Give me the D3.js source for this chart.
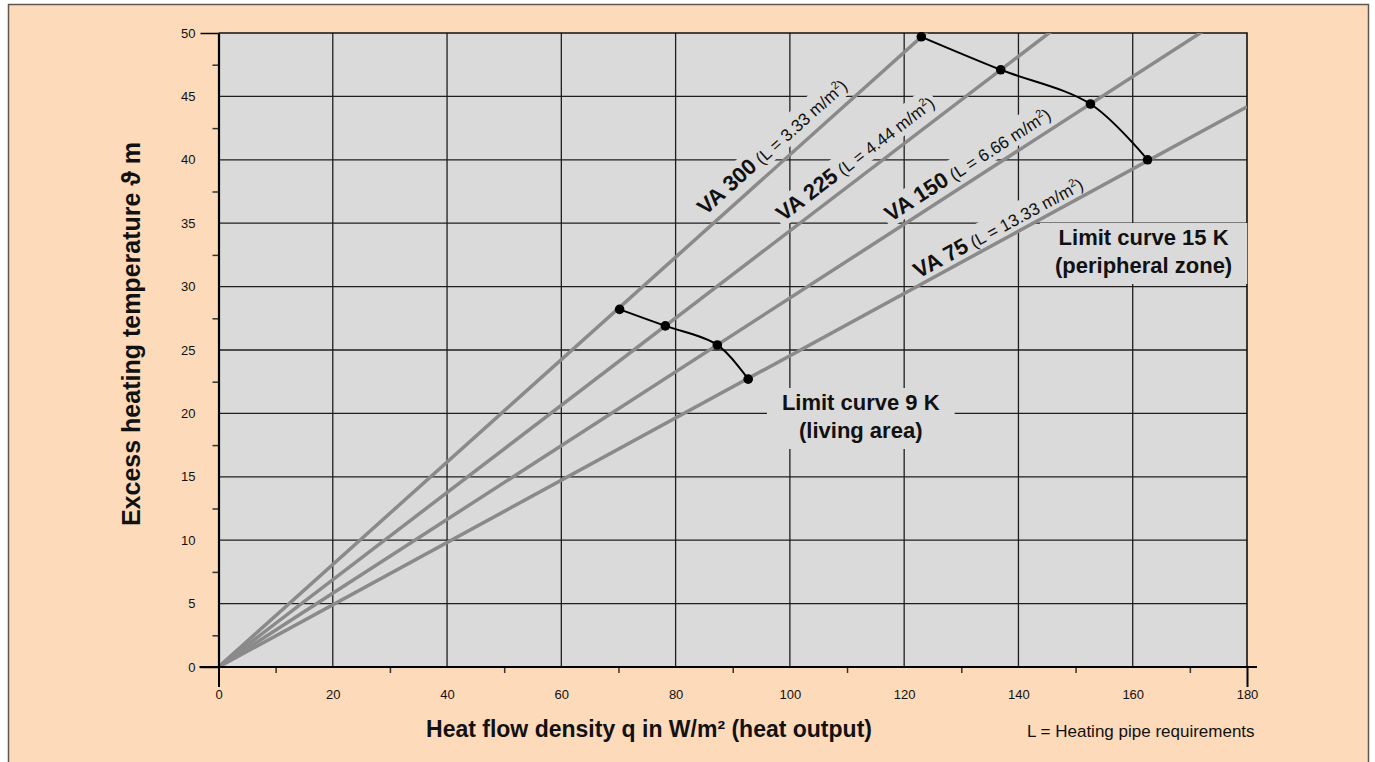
<!DOCTYPE html>
<html>
<head>
<meta charset="utf-8">
<script src="https://cdn.jsdelivr.net/npm/d3@7"></script>
<style>
  html, body { margin: 0; padding: 0; background: #fff; }
  svg { display: block; font-family: "Liberation Sans", Arial, Helvetica, sans-serif; }
</style>
</head>
<body>
<svg id="chart" width="1375" height="762"></svg>
<script>
// axis ticks
const xTicks = [0, 20, 40, 60, 80, 100, 120, 140, 160, 180];
const xMinor = [10, 30, 50, 70, 90, 110, 130, 150, 170];
const yTicks = [0, 5, 10, 15, 20, 25, 30, 35, 40, 45, 50];
const yMinor = [2.5, 7.5, 12.5, 17.5, 22.5, 27.5, 32.5, 37.5, 42.5, 47.5];

// pipe spacing lines (temperature per W/m²)
const vaNames = ['VA 300', 'VA 225', 'VA 150', 'VA 75'];
const vaPipe = ['3.33', '4.44', '6.66', '13.33'];
const vaSlope = [0.404, 0.344, 0.291, 0.2455];

// limit curves
const limit9q = [70.2, 78.2, 87.3, 92.7];
const limit9t = [28.2, 26.9, 25.4, 22.7];
const limit15q = [123.0, 136.9, 152.6, 162.6];
const limit15t = [49.7, 47.1, 44.4, 40.0];

// where each line label starts (q on the line) and its lift above the line
const labelPlace = [
  { at: 86.5, lift: 11 },
  { at: 100, lift: 11 },
  { at: 118.5, lift: 9 },
  { at: 123, lift: 6 }
];

const peach = '#fddab9';
const plotGray = '#dadada';

const svg = d3.select('#chart');

const x = d3.scaleLinear().domain([0, 180]).range([218.5, 1247]);
const y = d3.scaleLinear().domain([0, 50]).range([667, 33]);

// outer frame
svg.append('rect')
  .attr('x', 8.5).attr('y', 4.5)
  .attr('width', 1360).attr('height', 780)
  .attr('fill', peach)
  .attr('stroke', '#5e5852')
  .attr('stroke-width', 1.5);

// plot area
svg.append('rect')
  .attr('x', x(0)).attr('y', y(50))
  .attr('width', x(180) - x(0)).attr('height', y(0) - y(50))
  .attr('fill', plotGray);

svg.append('clipPath').attr('id', 'plot-clip')
  .append('rect')
  .attr('x', x(0)).attr('y', y(50))
  .attr('width', x(180) - x(0)).attr('height', y(0) - y(50));

// grid
const grid = svg.append('g');
grid.selectAll('line.gx')
  .data(xTicks.slice(1, -1))
  .enter().append('line')
  .attr('class', 'gx')
  .attr('x1', d => x(d)).attr('x2', d => x(d))
  .attr('y1', y(0)).attr('y2', y(50))
  .attr('stroke', '#1e1e1e').attr('stroke-width', 1.3);
grid.selectAll('line.gy')
  .data(yTicks.slice(1, -1))
  .enter().append('line')
  .attr('class', 'gy')
  .attr('x1', x(0)).attr('x2', x(180))
  .attr('y1', d => y(d)).attr('y2', d => y(d))
  .attr('stroke', '#1e1e1e').attr('stroke-width', 1.3);

// border top / right
svg.append('path')
  .attr('d', `M${x(0)},${y(50)}H${x(180)}V${y(0)}`)
  .attr('fill', 'none')
  .attr('stroke', '#111').attr('stroke-width', 1.6);

const labelLayer = svg.append('g');
const lineLayer = svg.append('g').attr('clip-path', 'url(#plot-clip)');
const textLayer = svg.append('g');

const ang = s => Math.atan2(y(0) - y(s * 180), x(180) - x(0)) * 180 / Math.PI;

// line labels; their backing goes under the lines
vaNames.forEach((name, i) => {
  const s = vaSlope[i];
  const lx = labelPlace[i].at;
  const g = textLayer.append('g')
    .attr('transform', `translate(${x(lx)},${y(s * lx)}) rotate(${-ang(s)})`);
  const t = g.append('text').attr('y', -labelPlace[i].lift).attr('fill', '#111');
  t.append('tspan').attr('font-weight', 'bold').attr('font-size', 22).text(name);
  t.append('tspan').attr('font-size', 17).text(` (L = ${vaPipe[i]} m/m`);
  t.append('tspan').attr('font-size', 11).attr('dy', -7).text('2');
  t.append('tspan').attr('font-size', 17).attr('dy', 7).text(')');
  const bb = t.node().getBBox();
  const bg = labelLayer.append('g').attr('transform', g.attr('transform'));
  bg.append('rect')
    .attr('x', bb.x - 3).attr('y', bb.y - 1)
    .attr('width', bb.width + 6).attr('height', bb.height + 1)
    .attr('fill', plotGray);
});

// limit curve labels
const limitLabels = [
  { q: 112.4, t: 20.27, lines: ['Limit curve 9 K', '(living area)'] },
  { q: 161.9, t: 33.28, lines: ['Limit curve 15 K', '(peripheral zone)'] }
];
limitLabels.forEach(d => {
  const t = textLayer.append('text')
    .attr('text-anchor', 'middle')
    .attr('font-weight', 'bold')
    .attr('font-size', 22)
    .attr('fill', '#111');
  d.lines.forEach((ln, k) => {
    t.append('tspan').attr('x', x(d.q)).attr('y', y(d.t) + k * 28).text(ln);
  });
  const bb = t.node().getBBox();
  labelLayer.append('rect')
    .attr('x', bb.x - 15).attr('y', bb.y - 2)
    .attr('width', bb.width + 30).attr('height', bb.height + 8)
    .attr('fill', plotGray);
});

// VA lines
lineLayer.selectAll('line.va')
  .data(vaSlope)
  .enter().append('line')
  .attr('class', 'va')
  .attr('x1', x(0)).attr('y1', y(0))
  .attr('x2', x(180)).attr('y2', d => y(d * 180))
  .attr('stroke', '#8a8a8a')
  .attr('stroke-width', 3.5);

// limit curves
const curve = d3.line()
  .x(d => x(d[0])).y(d => y(d[1]))
  .curve(d3.curveCatmullRom.alpha(0.5));

[[limit9q, limit9t], [limit15q, limit15t]].forEach(([qs, ts]) => {
  const pts = qs.map((q, i) => [q, ts[i]]);
  svg.append('path')
    .attr('d', curve(pts))
    .attr('fill', 'none')
    .attr('stroke', '#000')
    .attr('stroke-width', 2);
  svg.selectAll(null)
    .data(pts)
    .enter().append('circle')
    .attr('cx', d => x(d[0])).attr('cy', d => y(d[1]))
    .attr('r', 4.8)
    .attr('fill', '#000');
});

textLayer.raise();

// axes
const yLab = svg.append('g')
  .attr('transform', `translate(${x(0)},0)`)
  .call(d3.axisLeft(y).tickValues(yTicks).tickSize(0).tickPadding(23));
yLab.select('.domain').remove();
yLab.selectAll('text').attr('font-size', 13).attr('font-family', null).attr('fill', '#111');

const yMin = svg.append('g')
  .attr('transform', `translate(${x(0)},0)`)
  .call(d3.axisLeft(y).tickValues(yMinor).tickSize(6).tickFormat(''));
yMin.select('.domain').remove();
yMin.selectAll('line').attr('stroke', '#333').attr('stroke-width', 1.5);

const yEnd = svg.append('g')
  .attr('transform', `translate(${x(0)},0)`)
  .call(d3.axisLeft(y).tickValues([0, 50]).tickSize(18).tickSizeOuter(0).tickFormat(''));
yEnd.select('.domain').attr('stroke', '#000').attr('stroke-width', 2.2);
yEnd.selectAll('line').attr('stroke', '#000').attr('stroke-width', 1.5);

const xLab = svg.append('g')
  .attr('transform', `translate(0,${y(0)})`)
  .call(d3.axisBottom(x).tickValues(xTicks).tickSize(0).tickPadding(23));
xLab.select('.domain').remove();
xLab.selectAll('text').attr('font-size', 13).attr('font-family', null).attr('fill', '#111');

const xMin = svg.append('g')
  .attr('transform', `translate(0,${y(0)})`)
  .call(d3.axisBottom(x).tickValues(xMinor).tickSize(6).tickFormat(''));
xMin.select('.domain').remove();
xMin.selectAll('line').attr('stroke', '#333').attr('stroke-width', 1.5);

const xEnd = svg.append('g')
  .attr('transform', `translate(0,${y(0)})`)
  .call(d3.axisBottom(x).tickValues([0, 180]).tickSize(20).tickSizeOuter(0).tickFormat(''));
xEnd.select('.domain').remove();
xEnd.selectAll('line').attr('stroke', '#000').attr('stroke-width', 2);

// bottom axis line running past the plot on both sides
svg.append('line')
  .attr('x1', x(0) - 19).attr('x2', x(180) + 10)
  .attr('y1', y(0)).attr('y2', y(0))
  .attr('stroke', '#000').attr('stroke-width', 2.2);

// axis titles
svg.append('text')
  .attr('x', 649).attr('y', 737)
  .attr('text-anchor', 'middle')
  .attr('font-weight', 'bold').attr('font-size', 23)
  .attr('fill', '#111')
  .text('Heat flow density q in W/m² (heat output)');

svg.append('text')
  .attr('x', 1027).attr('y', 737)
  .attr('font-size', 17)
  .attr('fill', '#111')
  .text('L = Heating pipe requirements');

svg.append('text')
  .attr('transform', 'translate(140,334) rotate(-90)')
  .attr('text-anchor', 'middle')
  .attr('font-weight', 'bold').attr('font-size', 25)
  .attr('fill', '#111')
  .text('Excess heating temperature ϑ m');
</script>
</body>
</html>
